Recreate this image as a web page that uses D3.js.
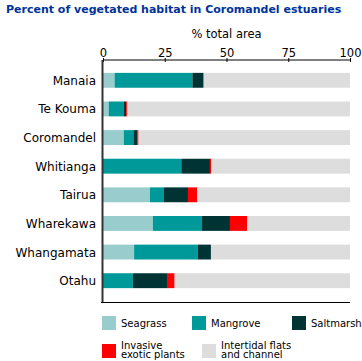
<!DOCTYPE html>
<html>
<head>
<meta charset="utf-8">
<script src="https://cdn.jsdelivr.net/npm/d3@7"></script>
<style>
  body { margin: 0; background: #fff; }
  svg { display: block; font-family: Verdana, "DejaVu Sans", sans-serif; }
</style>
</head>
<body>
<svg id="chart" width="362" height="361"></svg>
<script>
// ---- DATA ----
const estuaries = ["Manaia", "Te Kouma", "Coromandel", "Whitianga", "Tairua", "Wharekawa", "Whangamata", "Otahu"];
const seagrass  = [4.7, 2.3, 8.4, 0, 19.0, 20.2, 12.6, 0];
const mangrove  = [31.5, 6.2, 3.9, 31.7, 5.7, 19.9, 25.7, 12.1];
const saltmarsh = [4.3, 0.9, 1.7, 11.6, 9.7, 11.3, 5.4, 13.8];
const invasive  = [0.3, 0.5, 0.4, 0.5, 3.7, 6.9, 0, 3.1];
const xTicks = [0, 25, 50, 75, 100];

const seriesKeys = ["seagrass", "mangrove", "saltmarsh", "invasive", "flats"];
const seriesNames = ["Seagrass", "Mangrove", "Saltmarsh", "Invasive\nexotic plants", "Intertidal flats\nand channel"];
const colors = ["#99cccc", "#009999", "#003333", "#ff0000", "#dddddd"];

// table for the stack; flats = remainder of 100
const rows = estuaries.map((name, i) => ({
  name,
  seagrass: seagrass[i],
  mangrove: mangrove[i],
  saltmarsh: saltmarsh[i],
  invasive: invasive[i],
  flats: 100 - seagrass[i] - mangrove[i] - saltmarsh[i] - invasive[i]
}));

const svg = d3.select("#chart");

const x = d3.scaleLinear().domain([0, 100]).range([103, 350]);
const y = d3.scaleBand()
  .domain(estuaries)
  .range([66, 295])
  .paddingInner(0.48)
  .paddingOuter(0.24);

const color = d3.scaleOrdinal().domain(seriesKeys).range(colors);

// title
svg.append("text")
  .attr("x", 6)
  .attr("y", 13)
  .attr("fill", "#003399")
  .attr("font-weight", "bold")
  .attr("font-size", 11)
  .text("Percent of vegetated habitat in Coromandel estuaries");

// axis title
svg.append("text")
  .attr("x", (x(0) + x(100)) / 2)
  .attr("y", 38)
  .attr("text-anchor", "middle")
  .attr("font-size", 11.5)
  .attr("fill", "#000")
  .text("% total area");

// bars
const stack = d3.stack().keys(seriesKeys);
const layers = stack(rows);

svg.append("g")
  .selectAll("g")
  .data(layers)
  .join("g")
  .attr("fill", d => color(d.key))
  .selectAll("rect")
  .data(d => d)
  .join("rect")
  .attr("x", d => x(d[0]))
  .attr("y", d => y(d.data.name))
  .attr("width", d => Math.max(0, x(d[1]) - x(d[0])))
  .attr("height", y.bandwidth());

// top axis
const xAxis = svg.append("g")
  .attr("transform", `translate(0,60)`)
  .call(d3.axisTop(x).tickValues(xTicks).tickSize(0).tickPadding(3));
xAxis.select(".domain").attr("stroke", "#000").attr("d", `M${x(0)},0H${x(100)}`);
xAxis.selectAll(".tick line").attr("stroke", "#000").attr("y2", 2).attr("y1", -2);
xAxis.selectAll(".tick text")
  .attr("font-family", "Verdana, 'DejaVu Sans', sans-serif")
  .attr("font-size", 11.5)
  .attr("fill", "#000");

// left vertical line and bottom line
svg.append("line")
  .attr("x1", x(0) - 0.5).attr("x2", x(0) - 0.5)
  .attr("y1", 60).attr("y2", 303)
  .attr("stroke", "#333").attr("stroke-width", 2);
svg.append("line")
  .attr("x1", x(0) - 2).attr("x2", x(100))
  .attr("y1", 302.5).attr("y2", 302.5)
  .attr("stroke", "#000").attr("stroke-width", 1.2);

// category labels
svg.append("g")
  .selectAll("text")
  .data(estuaries)
  .join("text")
  .attr("x", 96)
  .attr("y", d => y(d) + y.bandwidth() / 2 + 4.5)
  .attr("text-anchor", "end")
  .attr("font-size", 12)
  .attr("fill", "#000")
  .text(d => d);

// legend
const legendPos = [
  { x: 102, y: 316 }, { x: 192, y: 316 }, { x: 292, y: 316 },
  { x: 102, y: 344 }, { x: 202, y: 344 }
];
const legend = svg.append("g").selectAll("g")
  .data(seriesKeys)
  .join("g")
  .attr("transform", (d, i) => `translate(${legendPos[i].x},${legendPos[i].y})`);

legend.append("rect")
  .attr("width", 14)
  .attr("height", 14)
  .attr("fill", d => color(d));

legend.append("text")
  .attr("x", 19)
  .attr("font-size", 10)
  .attr("fill", "#000")
  .each(function (d, i) {
    const lines = seriesNames[i].split("\n");
    const t = d3.select(this);
    lines.forEach((ln, j) => {
      t.append("tspan")
        .attr("x", 19)
        .attr("y", lines.length === 1 ? 10.5 : 4.5 + j * 9.5)
        .text(ln);
    });
  });
</script>
</body>
</html>
